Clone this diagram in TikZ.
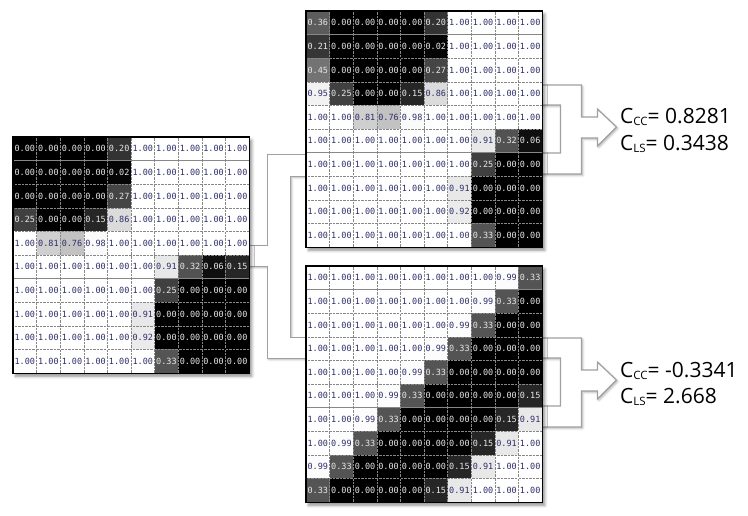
\documentclass[tikz,border=0pt]{standalone}
\usepackage{fontspec}
\setmonofont{DejaVu Sans Mono}
\newfontfamily\labelfont{Open Sans}
\usetikzlibrary{calc,shadows.blur}
\definecolor{textdark}{RGB}{45,45,105}
\definecolor{textlight}{RGB}{232,232,232}
\definecolor{pipegray}{RGB}{160,160,160}
\definecolor{celllines}{RGB}{135,135,135}
\pgfdeclarelayer{background}
\pgfsetlayers{background,main}
\tikzstyle{cell} = [draw=celllines, densely dotted, minimum width=23.6pt, minimum height=23.6pt, inner sep=0pt, font=\fontsize{8.5}{10}\selectfont\ttfamily]
\tikzstyle{gridframe} = [fill=white, minimum width=236pt, minimum height=236pt, anchor=north west, inner sep=0pt, blur shadow={shadow xshift=2.5pt, shadow yshift=-3pt, shadow blur radius=3pt, shadow opacity=45}]
\tikzstyle{gridborder} = [draw=black, line width=1.3pt]
\tikzstyle{pipe} = [draw=pipegray, fill=white, line width=1.2pt, blur shadow={shadow xshift=1.5pt, shadow yshift=-1.5pt, shadow blur radius=2pt, shadow opacity=30}]
\tikzstyle{result} = [anchor=base west, inner sep=0pt, font=\labelfont\fontsize{21}{22}\selectfont]

\newcommand{\lowidx}[1]{\raisebox{-2pt}{\fontsize{11.5}{12}\selectfont #1}}

% one 10x10 grid of values: name, x, y, rows
\newcommand{\valgrid}[4]{%
  \node[gridframe] (#1) at (#2,#3) {};
  \foreach \row [count=\ri] in {#4} {
    \foreach \v [count=\ci] in \row {
      \pgfmathsetmacro{\gv}{100*\v}
      \ifdim\v pt<0.5pt \def\tcol{textlight}\else\def\tcol{textdark}\fi
      \node[cell, fill=white!\gv!black, text=\tcol] (#1-\ri-\ci) at ({#2+(\ci-0.5)*23.6},{#3+(\ri-0.5)*23.6}) {\v};
    }
  }
  \draw[gridborder] (#1.north west) rectangle (#1.south east);
}

% hollow fork arrow from a grid to its result
\newcommand{\forkarrow}[2]{%
  \draw[pipe] ($(#1.north east)+(-3,#2)$) -- ++(42,0) -- ++(0,32) -- ++(16,0) -- ++(0,-8)
    -- ++(19,18) -- ++(-19,19) -- ++(0,-8) -- ++(-16,0) -- ++(0,36) -- ++(-42,0)
    -- ++(0,-21) -- ++(21,0) -- ++(0,-48) -- ++(-21,0) -- cycle;
}

\begin{document}
\begin{tikzpicture}[x=1pt, y=-1pt]
  \useasboundingbox (0,0) rectangle (748,515);

  % input image
  \valgrid{gridA}{13}{137}{
    {0.00,0.00,0.00,0.00,0.20,1.00,1.00,1.00,1.00,1.00},
    {0.00,0.00,0.00,0.00,0.02,1.00,1.00,1.00,1.00,1.00},
    {0.00,0.00,0.00,0.00,0.27,1.00,1.00,1.00,1.00,1.00},
    {0.25,0.00,0.00,0.15,0.86,1.00,1.00,1.00,1.00,1.00},
    {1.00,0.81,0.76,0.98,1.00,1.00,1.00,1.00,1.00,1.00},
    {1.00,1.00,1.00,1.00,1.00,1.00,0.91,0.32,0.06,0.15},
    {1.00,1.00,1.00,1.00,1.00,1.00,0.25,0.00,0.00,0.00},
    {1.00,1.00,1.00,1.00,1.00,0.91,0.00,0.00,0.00,0.00},
    {1.00,1.00,1.00,1.00,1.00,0.92,0.00,0.00,0.00,0.00},
    {1.00,1.00,1.00,1.00,1.00,1.00,0.33,0.00,0.00,0.00}}

  % shifted image
  \valgrid{gridB}{306}{11}{
    {0.36,0.00,0.00,0.00,0.00,0.20,1.00,1.00,1.00,1.00},
    {0.21,0.00,0.00,0.00,0.00,0.02,1.00,1.00,1.00,1.00},
    {0.45,0.00,0.00,0.00,0.00,0.27,1.00,1.00,1.00,1.00},
    {0.95,0.25,0.00,0.00,0.15,0.86,1.00,1.00,1.00,1.00},
    {1.00,1.00,0.81,0.76,0.98,1.00,1.00,1.00,1.00,1.00},
    {1.00,1.00,1.00,1.00,1.00,1.00,1.00,0.91,0.32,0.06},
    {1.00,1.00,1.00,1.00,1.00,1.00,1.00,0.25,0.00,0.00},
    {1.00,1.00,1.00,1.00,1.00,1.00,0.91,0.00,0.00,0.00},
    {1.00,1.00,1.00,1.00,1.00,1.00,0.92,0.00,0.00,0.00},
    {1.00,1.00,1.00,1.00,1.00,1.00,1.00,0.33,0.00,0.00}}

  % diagonal image
  \valgrid{gridC}{306}{266}{
    {1.00,1.00,1.00,1.00,1.00,1.00,1.00,1.00,0.99,0.33},
    {1.00,1.00,1.00,1.00,1.00,1.00,1.00,0.99,0.33,0.00},
    {1.00,1.00,1.00,1.00,1.00,1.00,0.99,0.33,0.00,0.00},
    {1.00,1.00,1.00,1.00,1.00,0.99,0.33,0.00,0.00,0.00},
    {1.00,1.00,1.00,1.00,0.99,0.33,0.00,0.00,0.00,0.00},
    {1.00,1.00,1.00,0.99,0.33,0.00,0.00,0.00,0.00,0.15},
    {1.00,1.00,0.99,0.33,0.00,0.00,0.00,0.00,0.15,0.91},
    {1.00,0.99,0.33,0.00,0.00,0.00,0.00,0.15,0.91,1.00},
    {0.99,0.33,0.00,0.00,0.00,0.00,0.15,0.91,1.00,1.00},
    {0.33,0.00,0.00,0.00,0.00,0.15,0.91,1.00,1.00,1.00}}

  % results
  \node[result] (ccB) at (620,123) {C\lowidx{CC}= 0.8281};
  \node[result] (lsB) at (620,150) {C\lowidx{LS}= 0.3438};
  \node[result] (ccC) at (620,377) {C\lowidx{CC}= -0.3341};
  \node[result] (lsC) at (620,403) {C\lowidx{LS}= 2.668};

  \begin{pgfonlayer}{background}
    \draw[pipe] ($(gridA.east)+(-3,-10)$) -- ++(21,0) -- ++(0,-91) -- ++(41,0) -- ++(0,22)
      -- ++(-18,0) -- ++(0,161) -- ++(18,0) -- ++(0,21) -- ++(-41,0) -- ++(0,-92)
      -- ++(-21,0) -- cycle;
    \forkarrow{gridB}{74}
    \forkarrow{gridC}{72}
  \end{pgfonlayer}
\end{tikzpicture}
\end{document}
